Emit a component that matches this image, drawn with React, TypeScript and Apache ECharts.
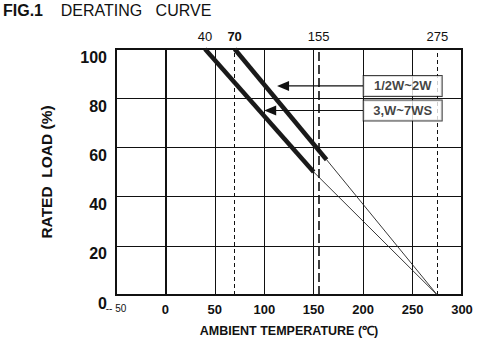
import React, { useEffect, useRef } from "react";
import * as echarts from "echarts";

const xMin = -50;
const xMax = 300;
const xStep = 50;
const yMin = 0;
const yMax = 100;
const yStep = 20;

// 1/2W~2W curve
const thickSmall = [[70, 100], [163, 55]];
const thinSmall = [[163, 55], [275, 0]];
// 3W~7WS curve
const thickLarge = [[40, 100], [150, 50]];
const thinLarge = [[150, 50], [275, 0]];

// reference temperatures marked at the top
const markTemps = [40, 70, 155, 275];

// legend boxes and arrows
const boxLabels = ["1/2W~2W", "3,W~7WS"];
const boxPos = [[240, 85], [240, 75]];
const arrowSmall = [[200, 85], [119, 85]];
const arrowLarge = [[200, 75], [106, 75]];

const INK = "#111";
const FONT = "Liberation Sans, Arial, sans-serif";

export default function App() {
  const ref = useRef<HTMLDivElement>(null);
  useEffect(() => {
    if (!ref.current) return;
    const chart = echarts.init(ref.current, null, { renderer: "svg" });
    const arrowSeries = (pts: number[][]) => ({
      type: "line",
      data: [
        { value: pts[0], symbol: "none" },
        { value: pts[1], symbol: "triangle", symbolSize: [10, 12], symbolRotate: 90 },
      ],
      showSymbol: true,
      lineStyle: { color: INK, width: 1.2 },
      itemStyle: { color: INK },
      silent: true,
      z: 5,
    });
    const mlData = markTemps.map((t) => {
      const isLabelOnly = t === 40;
      const isBold = t === 70;
      const is155 = t === 155;
      return {
        xAxis: t,
        lineStyle: isLabelOnly
          ? { color: "transparent", width: 0 }
          : is155
          ? { color: INK, width: 1.6, type: [9, 4] }
          : { color: INK, width: 1, type: [4, 3] },
        label: {
          show: true,
          position: "end",
          formatter: String(t),
          color: INK,
          fontFamily: FONT,
          fontSize: 13,
          fontWeight: isBold ? "bold" : "normal",
          distance: 6,
        },
      };
    });
    chart.setOption({
      animation: false,
      backgroundColor: "#fff",
      title: {
        text: "{b|FIG.1}{n|    DERATING   CURVE}",
        left: 3,
        top: 2,
        padding: 0,
        textStyle: {
          rich: {
            b: { fontFamily: FONT, fontWeight: "bold", fontSize: 16, color: INK },
            n: { fontFamily: FONT, fontWeight: "normal", fontSize: 16, color: INK },
          },
        },
      },
      grid: {
        left: 116,
        right: 21,
        top: 49,
        bottom: 46,
        show: true,
        borderColor: INK,
        borderWidth: 2,
      },
      xAxis: {
        type: "value",
        min: xMin,
        max: xMax,
        interval: xStep,
        name: "AMBIENT TEMPERATURE (℃)",
        nameLocation: "middle",
        nameGap: 29,
        nameTextStyle: {
          fontFamily: FONT,
          fontWeight: "bold",
          fontSize: 12.5,
          color: INK,
        },
        axisLine: { lineStyle: { color: INK, width: 2 } },
        axisTick: { show: false },
        splitLine: { lineStyle: { color: INK, width: 1 } },
        axisLabel: {
          margin: 8,
          formatter: (v: number) => (v === xMin ? "{s|-- 50}" : "{b|" + v + "}"),
          rich: {
            s: { fontFamily: FONT, fontSize: 10, color: INK },
            b: { fontFamily: FONT, fontSize: 13, fontWeight: "bold", color: INK },
          },
        },
      },
      yAxis: {
        type: "value",
        min: yMin,
        max: yMax,
        interval: yStep,
        name: "RATED  LOAD (%)",
        nameLocation: "middle",
        nameGap: 62,
        nameRotate: 90,
        nameTextStyle: {
          fontFamily: FONT,
          fontWeight: "bold",
          fontSize: 15.5,
          color: INK,
        },
        axisLine: { lineStyle: { color: INK, width: 2 } },
        axisTick: { show: false },
        splitLine: { lineStyle: { color: INK, width: 1 } },
        axisLabel: {
          margin: 9,
          color: INK,
          fontFamily: FONT,
          fontWeight: "bold",
          fontSize: 16,
          verticalAlign: "top",
        },
      },
      series: [
        {
          type: "line",
          data: thickSmall,
          showSymbol: false,
          lineStyle: { color: "#1a1a1a", width: 4.5, cap: "butt" },
          silent: true,
          z: 4,
          markLine: { symbol: ["none", "none"], silent: true, data: mlData },
        },
        {
          type: "line",
          data: thinSmall,
          showSymbol: false,
          lineStyle: { color: "#222", width: 0.9 },
          silent: true,
        },
        {
          type: "line",
          data: thickLarge,
          showSymbol: false,
          lineStyle: { color: "#1a1a1a", width: 4.5, cap: "butt" },
          silent: true,
          z: 4,
        },
        {
          type: "line",
          data: thinLarge,
          showSymbol: false,
          lineStyle: { color: "#222", width: 0.9 },
          silent: true,
        },
        arrowSeries(arrowSmall),
        arrowSeries(arrowLarge),
        {
          type: "scatter",
          data: boxPos.map((p, i) => ({ value: p, name: boxLabels[i] })),
          symbolSize: 0,
          silent: true,
          z: 6,
          label: {
            show: true,
            position: "inside",
            formatter: (p: any) => p.name,
            color: INK,
            fontFamily: FONT,
            fontWeight: "bold",
            fontSize: 13,
            backgroundColor: "#fff",
            borderColor: INK,
            borderWidth: 1,
            width: 70,
            height: 14,
            lineHeight: 14,
            align: "center",
            padding: [3, 4],
          },
        },
      ],
    });
    return () => chart.dispose();
  }, []);
  return (
    <div
      ref={ref}
      style={{ position: "absolute", left: 0, top: 0, width: 483, height: 342 }}
    />
  );
}
